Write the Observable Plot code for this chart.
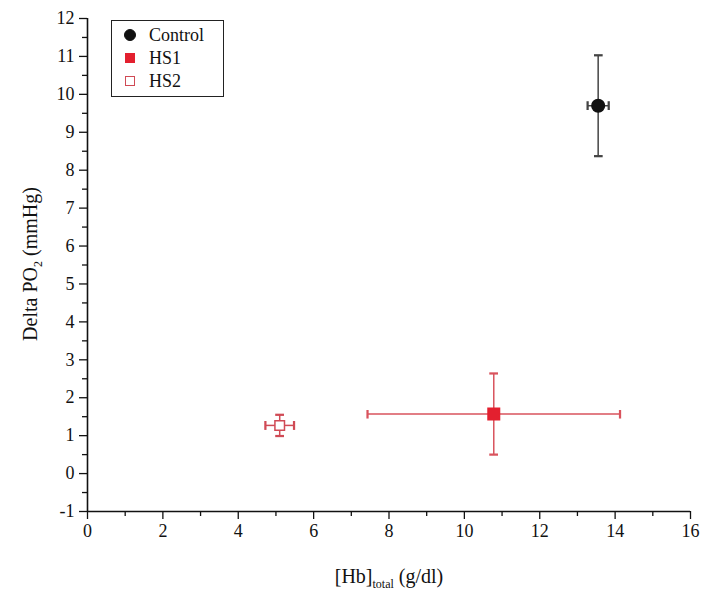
<!DOCTYPE html>
<html><head><meta charset="utf-8">
<script src="https://cdn.jsdelivr.net/npm/d3@7"></script>
<script src="https://cdn.jsdelivr.net/npm/@observablehq/plot@0.6"></script>
<style>
body{margin:0;background:#fff;}
#wrap{position:relative;width:705px;height:593px;font-family:"Liberation Serif","DejaVu Serif",serif;color:#111;}
#legend{position:absolute;left:111px;top:20px;width:113px;height:77px;border:1px solid #222;box-sizing:border-box;background:#fff;font-size:18px;}
#legend .row{position:absolute;left:0;height:20px;line-height:20px;}
#legend .sym{position:absolute;left:13px;top:5px;width:10px;height:10px;box-sizing:border-box;}
#legend .lab{position:absolute;left:37px;top:0;white-space:nowrap;}
.ylab{position:absolute;left:30px;top:264px;transform:translate(-50%,-50%) rotate(-90deg);font-size:20px;white-space:nowrap;}
.xlab{position:absolute;left:389px;top:576px;transform:translate(-50%,-50%);font-size:20px;white-space:nowrap;}
sub{font-size:12px;vertical-align:-5px;line-height:0;}
</style></head>
<body><div id="wrap"></div>
<script>
const groups = ["Control", "HS1", "HS2"];
const hb = [13.55, 10.78, 5.1];
const hbErr = [0.28, 3.35, 0.38];
const dpo2 = [9.7, 1.57, 1.27];
const dpo2Err = [1.33, 1.07, 0.28];
const fills = ["#111111", "#e3202f", "#ffffff"];
const strokes = ["#111111", "#e3202f", "#d04a55"];
const barColors = ["#444444", "#d9535d", "#d04a55"];
const symbols = ["circle", "square", "square"];
const sizes = [6.3, 6.5, 5.4];
const xTicks = [0, 2, 4, 6, 8, 10, 12, 14, 16];
const yTicks = [-1, 0, 1, 2, 3, 4, 5, 6, 7, 8, 9, 10, 11, 12];

const data = groups.map((g, i) => ({g, x: hb[i], xe: hbErr[i], y: dpo2[i], ye: dpo2Err[i], fill: fills[i], stroke: strokes[i], bar: barColors[i]}));
const serif = "Liberation Serif";

const plot = Plot.plot({
  width: 705, height: 593,
  marginLeft: 87, marginRight: 15, marginTop: 18, marginBottom: 82,
  style: {fontFamily: "'Liberation Serif', serif", fontSize: "17px", color: "#111", background: "#fff"},
  x: {domain: [0, 16]},
  y: {domain: [-1, 12]},
  marks: [
    Plot.axisX({ticks: d3.range(0, 17, 1).filter(d => d % 2), tickSize: 5, tickFormat: () => "", label: null, strokeWidth: 1.3}),
    Plot.axisX({ticks: xTicks, tickSize: 8, tickPadding: 5, tickFormat: d => String(d), label: null, strokeWidth: 1.3, fontSize: 18, fontFamily: serif}),
    Plot.axisY({ticks: d3.range(-0.5, 12, 1), tickSize: 5, tickFormat: () => "", label: null, strokeWidth: 1.3}),
    Plot.axisY({ticks: yTicks, tickSize: 8, tickPadding: 5, tickFormat: d => String(d), label: null, strokeWidth: 1.3, fontSize: 18, fontFamily: serif}),
    Plot.ruleX([0], {stroke: "#111", strokeWidth: 1.6}),
    Plot.ruleY([-1], {stroke: "#111", strokeWidth: 1.6}),
    Plot.link(data, {x1: d => d.x - d.xe, x2: d => d.x + d.xe, y1: "y", y2: "y", stroke: d => d.bar, strokeWidth: 1.5, markerStart: "tick", markerEnd: "tick"}),
    Plot.link(data, {x1: "x", x2: "x", y1: d => d.y - d.ye, y2: d => d.y + d.ye, stroke: d => d.bar, strokeWidth: 1.5, markerStart: "tick", markerEnd: "tick"}),
    ...data.map((d, i) => Plot.dot([d], {x: "x", y: "y", symbol: symbols[i], r: sizes[i], fill: fills[i], stroke: strokes[i], strokeWidth: 1.5}))
  ]
});
d3.select(plot).selectAll("text")
  .attr("font-family", "Liberation Serif")
  .style("font-family", "'Liberation Serif', serif")
  .style("font-size", "18px");
d3.select(plot).selectAll("g[aria-label$='tick label']")
  .attr("font-family", "Liberation Serif")
  .style("font-family", "'Liberation Serif', serif")
  .attr("font-size", 18);
const wrap = document.getElementById("wrap");
wrap.appendChild(plot);

const leg = document.createElement("div");
leg.id = "legend";
groups.forEach((g, i) => {
  const row = document.createElement("div");
  row.className = "row";
  row.style.top = (4 + i * 23) + "px";
  const s = document.createElement("div");
  s.className = "sym";
  s.style.background = fills[i];
  s.style.border = "1.5px solid " + strokes[i];
  if (i === 0) { s.style.borderRadius = "50%"; s.style.width = "12px"; s.style.height = "12px"; s.style.left = "12px"; s.style.top = "4px"; }
  const l = document.createElement("div");
  l.className = "lab";
  l.textContent = g;
  row.appendChild(s); row.appendChild(l);
  leg.appendChild(row);
});
wrap.appendChild(leg);

const yl = document.createElement("div");
yl.className = "ylab";
yl.innerHTML = "Delta PO<sub>2</sub> (mmHg)";
wrap.appendChild(yl);
const xl = document.createElement("div");
xl.className = "xlab";
xl.innerHTML = "[Hb]<sub>total</sub> (g/dl)";
wrap.appendChild(xl);
</script></body></html>
